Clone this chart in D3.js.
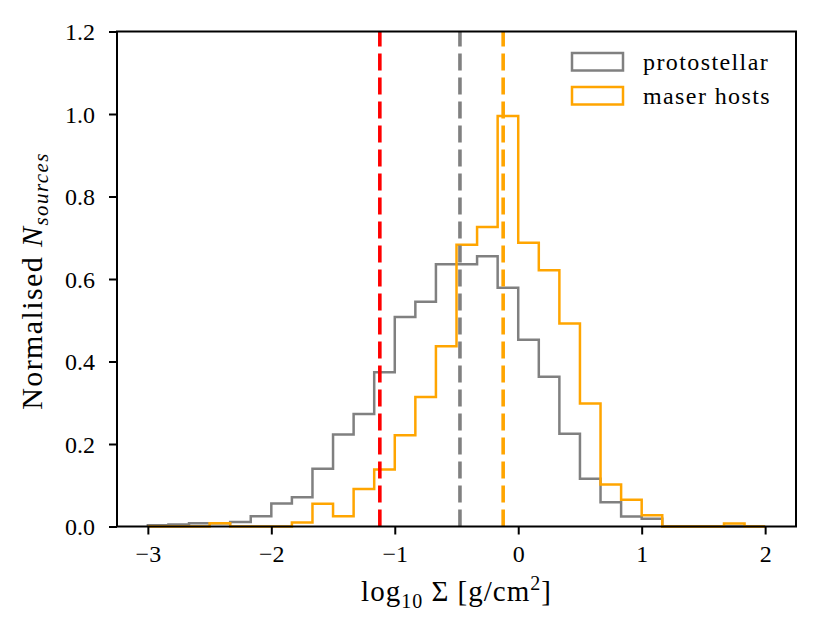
<!DOCTYPE html>
<html>
<head>
<meta charset="utf-8">
<script src="https://cdn.jsdelivr.net/npm/d3@7"></script>
<style>
  body { margin: 0; background: #fff; }
  svg { display: block; }
  svg text { font-family: 'Liberation Serif', serif; fill: #000; }
</style>
</head>
<body>
<svg id="chart" width="830" height="639"></svg>
<script>
// bin edges: -3 .. 2 in steps of 1/6
const BIN_EDGES = d3.range(31).map(k => -3 + k / 6)

// normalised counts per bin
const PROTOSTELLAR = [
  0.003, 0.005, 0.008, 0.008, 0.011, 0.025, 0.056, 0.071, 0.14, 0.223,
  0.273, 0.374, 0.508, 0.545, 0.636, 0.636, 0.655, 0.579, 0.453, 0.363,
  0.225, 0.116, 0.059, 0.024, 0.019, 0, 0, 0, 0, 0,
]
const MASER_HOSTS = [
  0, 0, 0, 0.008, 0, 0, 0, 0.01, 0.055, 0.025,
  0.091, 0.138, 0.221, 0.314, 0.437, 0.683, 0.726, 0.995, 0.688, 0.621,
  0.492, 0.298, 0.102, 0.065, 0.027, 0, 0, 0, 0.007, 0,
]

// dashed reference lines (log10 Sigma)
const THRESHOLD = -1.121
const MEDIAN_PROTO = -0.472
const MEDIAN_MASER = -0.122

const X_TICKS = [-3, -2, -1, 0, 1, 2]
const Y_TICKS = [0, 0.2, 0.4, 0.6, 0.8, 1.0, 1.2]
const LEGEND = ['protostellar', 'maser hosts']

const COLORS = {
  proto: '#808080',
  maser: '#FFA500',
  red: '#FF0000',
}

const M = { left: 117, right: 796, top: 31.5, bottom: 526.5 }
const svg = d3.select('#chart')

const x = d3.scaleLinear().domain([-3.25, 2.25]).range([M.left, M.right])
const y = d3.scaleLinear().domain([0, 1.2]).range([M.bottom, M.top])

const stepPoints = values => {
  const pts = [[BIN_EDGES[0], 0]]
  values.forEach((v, i) => {
    pts.push([BIN_EDGES[i], v])
    pts.push([BIN_EDGES[i + 1], v])
  })
  pts.push([BIN_EDGES[BIN_EDGES.length - 1], 0])
  return pts
}
const line = d3.line().x(d => x(d[0])).y(d => y(d[1]))

svg.append('path')
  .attr('d', line(stepPoints(PROTOSTELLAR)))
  .attr('fill', 'none')
  .attr('stroke', COLORS.proto)
  .attr('stroke-width', 2.5)
svg.append('path')
  .attr('d', line(stepPoints(MASER_HOSTS)))
  .attr('fill', 'none')
  .attr('stroke', COLORS.maser)
  .attr('stroke-width', 2.5)

const vlines = [
  [THRESHOLD, COLORS.red],
  [MEDIAN_PROTO, COLORS.proto],
  [MEDIAN_MASER, COLORS.maser],
]
vlines.forEach(([v, c]) => {
  svg.append('line')
    .attr('x1', x(v)).attr('x2', x(v))
    .attr('y1', M.bottom).attr('y2', M.top)
    .attr('stroke', c)
    .attr('stroke-width', 3.6)
    .attr('stroke-dasharray', '17,7')
})

// axes
const xAxis = svg.append('g')
  .attr('transform', `translate(0,${M.bottom})`)
  .call(d3.axisBottom(x).tickValues(X_TICKS).tickSize(8).tickPadding(10)
    .tickFormat(d => (d < 0 ? '\u2212' + Math.abs(d) : d)))
const yAxis = svg.append('g')
  .attr('transform', `translate(${M.left},0)`)
  .call(d3.axisLeft(y).tickValues(Y_TICKS).tickSize(8).tickPadding(14)
    .tickFormat(d3.format('.1f')))

;[xAxis, yAxis].forEach(g => {
  g.select('.domain').remove()
  g.selectAll('.tick line').attr('stroke', '#000').attr('stroke-width', 2)
  g.selectAll('.tick text')
    .attr('fill', '#000')
    .style('font-size', '24px')
})
xAxis.selectAll('.tick text').attr('dy', '0.72em')
yAxis.selectAll('.tick text').attr('dy', '0.34em')

// frame
svg.append('rect')
  .attr('x', M.left).attr('y', M.top)
  .attr('width', M.right - M.left).attr('height', M.bottom - M.top)
  .attr('fill', 'none').attr('stroke', '#000').attr('stroke-width', 2)

// x label
const xl = svg.append('text')
  .attr('x', (M.left + M.right) / 2)
  .attr('y', 601)
  .attr('text-anchor', 'middle')
  .style('font-size', '29px')
  .style('letter-spacing', '1px')
xl.append('tspan').text('log')
xl.append('tspan').attr('dy', 7).style('font-size', '20px').text('10')
xl.append('tspan').attr('dy', -7).text(' \u03A3 [g/cm')
xl.append('tspan').attr('dy', -11).style('font-size', '20px').text('2')
xl.append('tspan').attr('dy', 11).text(']')

// y label
const yl = svg.append('text')
  .attr('transform', `translate(42,${(M.top + M.bottom) / 2 + 2}) rotate(-90)`)
  .attr('text-anchor', 'middle')
  .style('font-size', '30px')
  .style('letter-spacing', '1.4px')
yl.append('tspan').text('Normalised ')
yl.append('tspan').style('font-style', 'italic').text('N')
yl.append('tspan').attr('dy', 6).style('font-style', 'italic')
  .style('font-size', '21px').text('sources')

// legend
const legend = svg.append('g')
LEGEND.forEach((name, i) => {
  const c = i === 0 ? COLORS.proto : COLORS.maser
  legend.append('rect')
    .attr('x', 572).attr('y', 53 + i * 34)
    .attr('width', 51).attr('height', 17.5)
    .attr('fill', 'none').attr('stroke', c).attr('stroke-width', 2.5)
  legend.append('text')
    .attr('x', 643).attr('y', 70 + i * 34)
    .style('font-size', '24px')
    .style('letter-spacing', '1.4px')
    .text(name)
})
</script>
</body>
</html>
